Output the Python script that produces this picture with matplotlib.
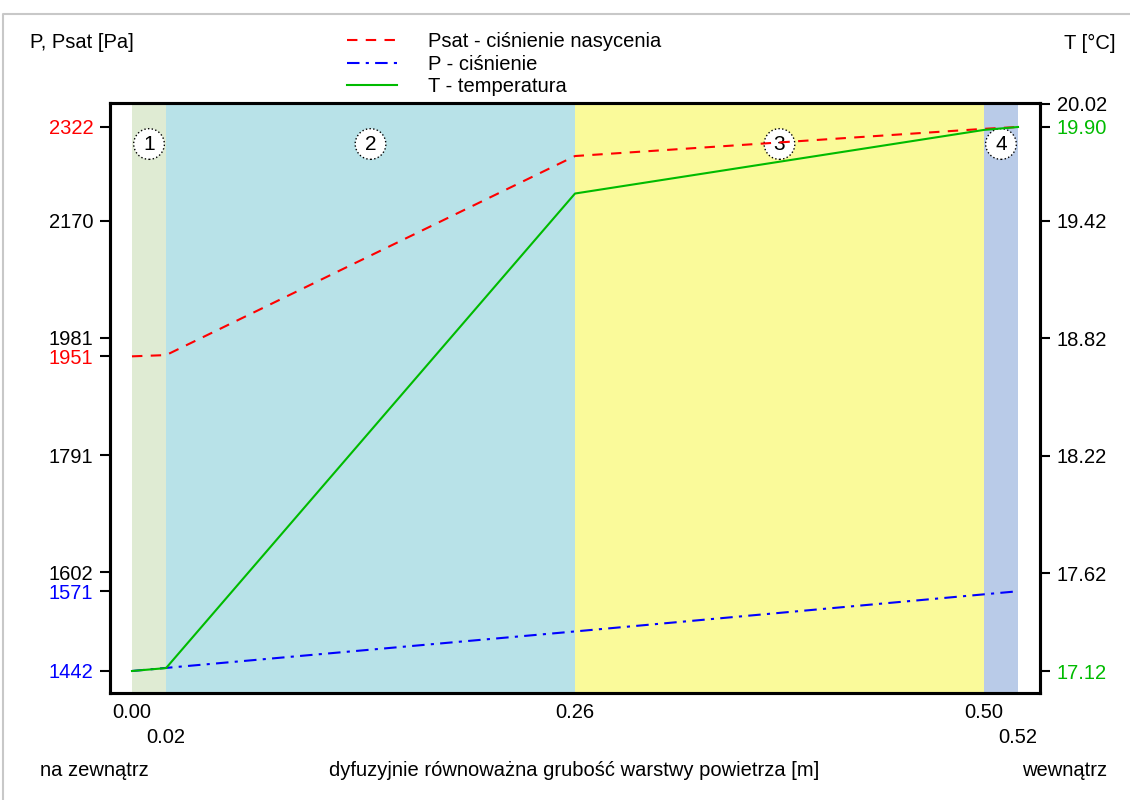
import matplotlib
matplotlib.use('Agg')
import matplotlib.pyplot as plt
from matplotlib.lines import Line2D
import matplotlib.transforms as mtransforms

plt.rcParams['font.family'] = ['Liberation Sans', 'DejaVu Sans']
plt.rcParams['font.size'] = 14.5

# layer boundaries (diffusion-equivalent air layer thickness, m)
layer_edges = [0.0, 0.02, 0.26, 0.50, 0.52]
layer_colors = ['#dfebd3', '#b8e2e8', '#fafa9a', '#b9cbe8']
layer_names = ['1', '2', '3', '4']

# values at the boundaries
psat = [1951, 1953, 2275, 2319, 2322]          # Pa
p = [1442, 1447, 1506, 1566, 1571]             # Pa
temp = [17.12, 17.135, 19.56, 19.885, 19.90]   # deg C

left_ticks = [2322, 2170, 1981, 1951, 1791, 1602, 1571, 1442]
left_colors = ['red', 'black', 'black', 'red', 'black', 'black', 'blue', 'blue']
right_ticks = [20.02, 19.90, 19.42, 18.82, 18.22, 17.62, 17.12]
right_colors = ['black', '#00bb00', 'black', 'black', 'black', 'black', '#00bb00']

x_ticks_top = [0.00, 0.26, 0.50]
x_ticks_low = [0.02, 0.52]

green = '#00bb00'

fig = plt.figure(figsize=(11.3, 8), dpi=100)
ax = fig.add_axes([110/1130, 1-693/800, 930/1130, 590/800])
ax2 = ax.twinx()

for i in range(len(layer_colors)):
    ax.axvspan(layer_edges[i], layer_edges[i+1], color=layer_colors[i], lw=0, zorder=0)

ytr = mtransforms.blended_transform_factory(ax.transData, ax.transAxes)
for i, name in enumerate(layer_names):
    xc = (layer_edges[i] + layer_edges[i+1]) / 2
    ax.text(xc, 0.9305, name, transform=ytr, ha='center', va='center', fontsize=15, zorder=1,
            bbox=dict(boxstyle='circle,pad=0.28', fc='white', ec='black', ls=':', lw=1))

ax.plot(layer_edges, psat, color='red', ls=(0, (5, 4)), lw=1.5, zorder=3, label='Psat - ciśnienie nasycenia')
ax.plot(layer_edges, p, color='blue', ls=(0, (6, 3, 1.5, 3)), lw=1.5, zorder=3, label='P - ciśnienie')
ax2.plot(layer_edges, temp, color=green, lw=1.5, label='T - temperatura')

ax.set_xlim(-0.0129, 0.5329)
ax.set_ylim(1406.4, 2360.8)
ax2.set_ylim(17.0076, 20.0226)

ax.set_xticks(x_ticks_top)
ax.set_xticklabels([f'{v:.2f}' for v in x_ticks_top])
ax.set_xticks(x_ticks_low, minor=True)
ax.set_xticklabels([f'{v:.2f}' for v in x_ticks_low], minor=True)
ax.tick_params(axis='x', which='major', length=0, pad=7)
ax.tick_params(axis='x', which='minor', length=0, pad=25)

ax.set_yticks(left_ticks)
ax.set_yticklabels([str(v) for v in left_ticks])
ax.tick_params(axis='y', length=7, width=1.5, pad=5)
for t, c in zip(ax.yaxis.get_major_ticks(), left_colors):
    t.tick1line.set_color(c)
    t.label1.set_color(c)

ax2.set_yticks(right_ticks)
ax2.set_yticklabels([f'{v:.2f}' for v in right_ticks])
ax2.tick_params(axis='y', length=7, width=1.5, pad=5)
for t, c in zip(ax2.yaxis.get_major_ticks(), right_colors):
    t.tick2line.set_color(c)
    t.label2.set_color(c)

for a in (ax, ax2):
    for s in a.spines.values():
        s.set_linewidth(2.2)

fig.text(30/1130, 1-43/800, 'P, Psat [Pa]', ha='left', va='center')
fig.text(1115/1130, 1-43/800, 'T [°C]', ha='right', va='center')
fig.text(40/1130, 1-771/800, 'na zewnątrz', ha='left', va='center')
fig.text(574/1130, 1-771/800, 'dyfuzyjnie równoważna grubość warstwy powietrza [m]', ha='center', va='center')
fig.text(1107/1130, 1-771/800, 'wewnątrz', ha='right', va='center')

handles = ax.get_lines() + ax2.get_lines()
fig.legend(handles, [h.get_label() for h in handles], loc='upper left',
           bbox_to_anchor=(347/1130, 1-32/800), frameon=False, handlelength=2.5,
           labelspacing=0.18, borderpad=0, borderaxespad=0, handletextpad=1.5)

# light frame around the picture
fig.add_artist(Line2D([3/1130, 3/1130, 1], [0, 1-14/800, 1-14/800], color='#c8c8c8', lw=1.5))

fig.savefig('out.png', dpi=100)
